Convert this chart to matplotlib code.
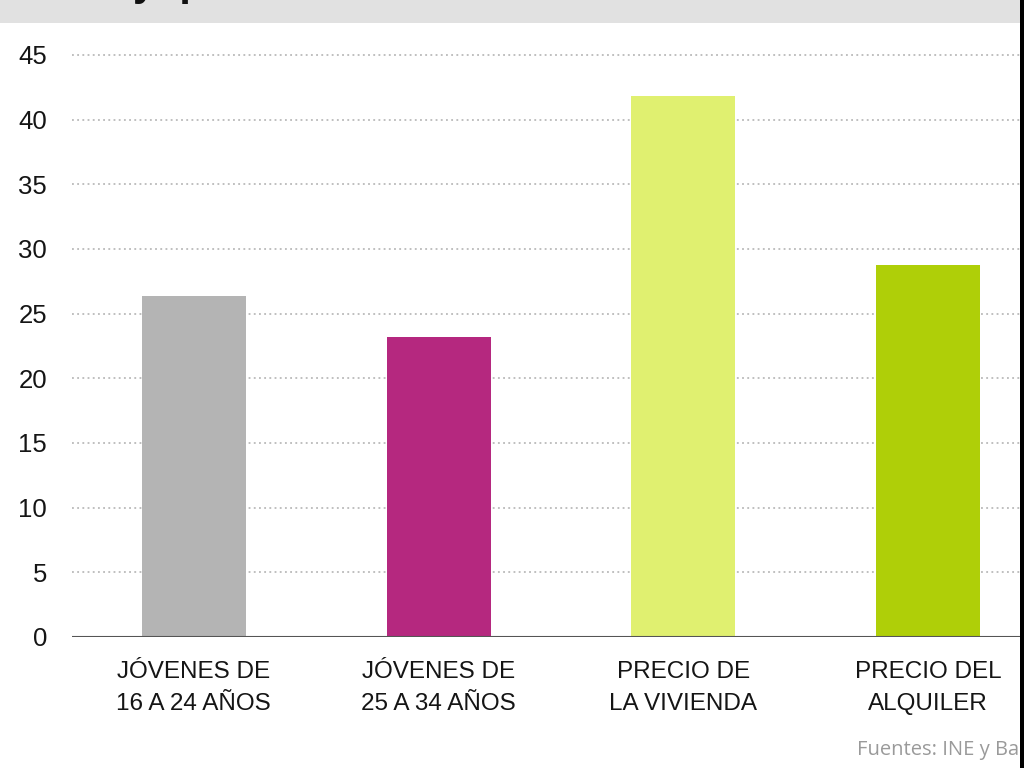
import matplotlib.pyplot as plt
from matplotlib.patches import Rectangle

categories = ["JÓVENES DE\n16 A 24 AÑOS", "JÓVENES DE\n25 A 34 AÑOS",
              "PRECIO DE\nLA VIVIENDA", "PRECIO DEL\nALQUILER"]
values = [26.4, 23.2, 41.8, 28.8]
colors = ["#b4b4b4", "#b5287f", "#e0f070", "#afcf08"]
yticks = [0, 5, 10, 15, 20, 25, 30, 35, 40, 45]

plt.rcParams['font.family'] = ['Liberation Sans', 'DejaVu Sans']

fig = plt.figure(figsize=(10.24, 7.68), dpi=100)
fig.patch.set_facecolor("white")

# grey header band with the (cut) title
fig.patches.append(Rectangle((0, 1 - 23 / 768), 1, 23 / 768, transform=fig.transFigure,
                             facecolor="#e1e1e1", edgecolor="none", zorder=0))
fig.text(0.13, 1.006, "y  p", fontsize=30, fontweight="bold", color="#111111",
         va="baseline", ha="left")

ax = fig.add_axes([72 / 1024, 131 / 768, 948 / 1024, 582 / 768])
x = range(len(values))
ax.bar(x, values, width=0.425, color=colors, zorder=3)

ax.set_xlim(-0.498, 3.376)
ax.set_ylim(0, 45)
ax.set_yticks(yticks)
ax.set_yticklabels([str(t) for t in yticks], fontsize=18.5, color="#151515")
ax.set_xticks(list(x))
ax.set_xticklabels(categories, fontsize=17.5, color="#151515", linespacing=1.6)
ax.tick_params(axis="both", length=0)
ax.tick_params(axis="y", pad=18)
ax.tick_params(axis="x", pad=17)

for t in yticks[1:]:
    ax.axhline(t, color="#adadad", linestyle=(0, (1.2, 2.2)), linewidth=1.1, zorder=1, clip_on=False)
ax.axhline(0, color="#555555", linewidth=1.5, zorder=4)

for s in ax.spines.values():
    s.set_visible(False)

fig.text(857 / 1024, 1 - 750 / 768, "Fuentes: INE y Banco de España", fontsize=14.5,
         color="#9a9a9a", family=["Open Sans", "DejaVu Sans"], va="center", ha="left")

# dark strip on the right edge
fig.patches.append(Rectangle((1020 / 1024, 0), 4 / 1024, 1, transform=fig.transFigure,
                             facecolor="#000000", edgecolor="none", zorder=10))

fig.savefig("out.png", dpi=100)
